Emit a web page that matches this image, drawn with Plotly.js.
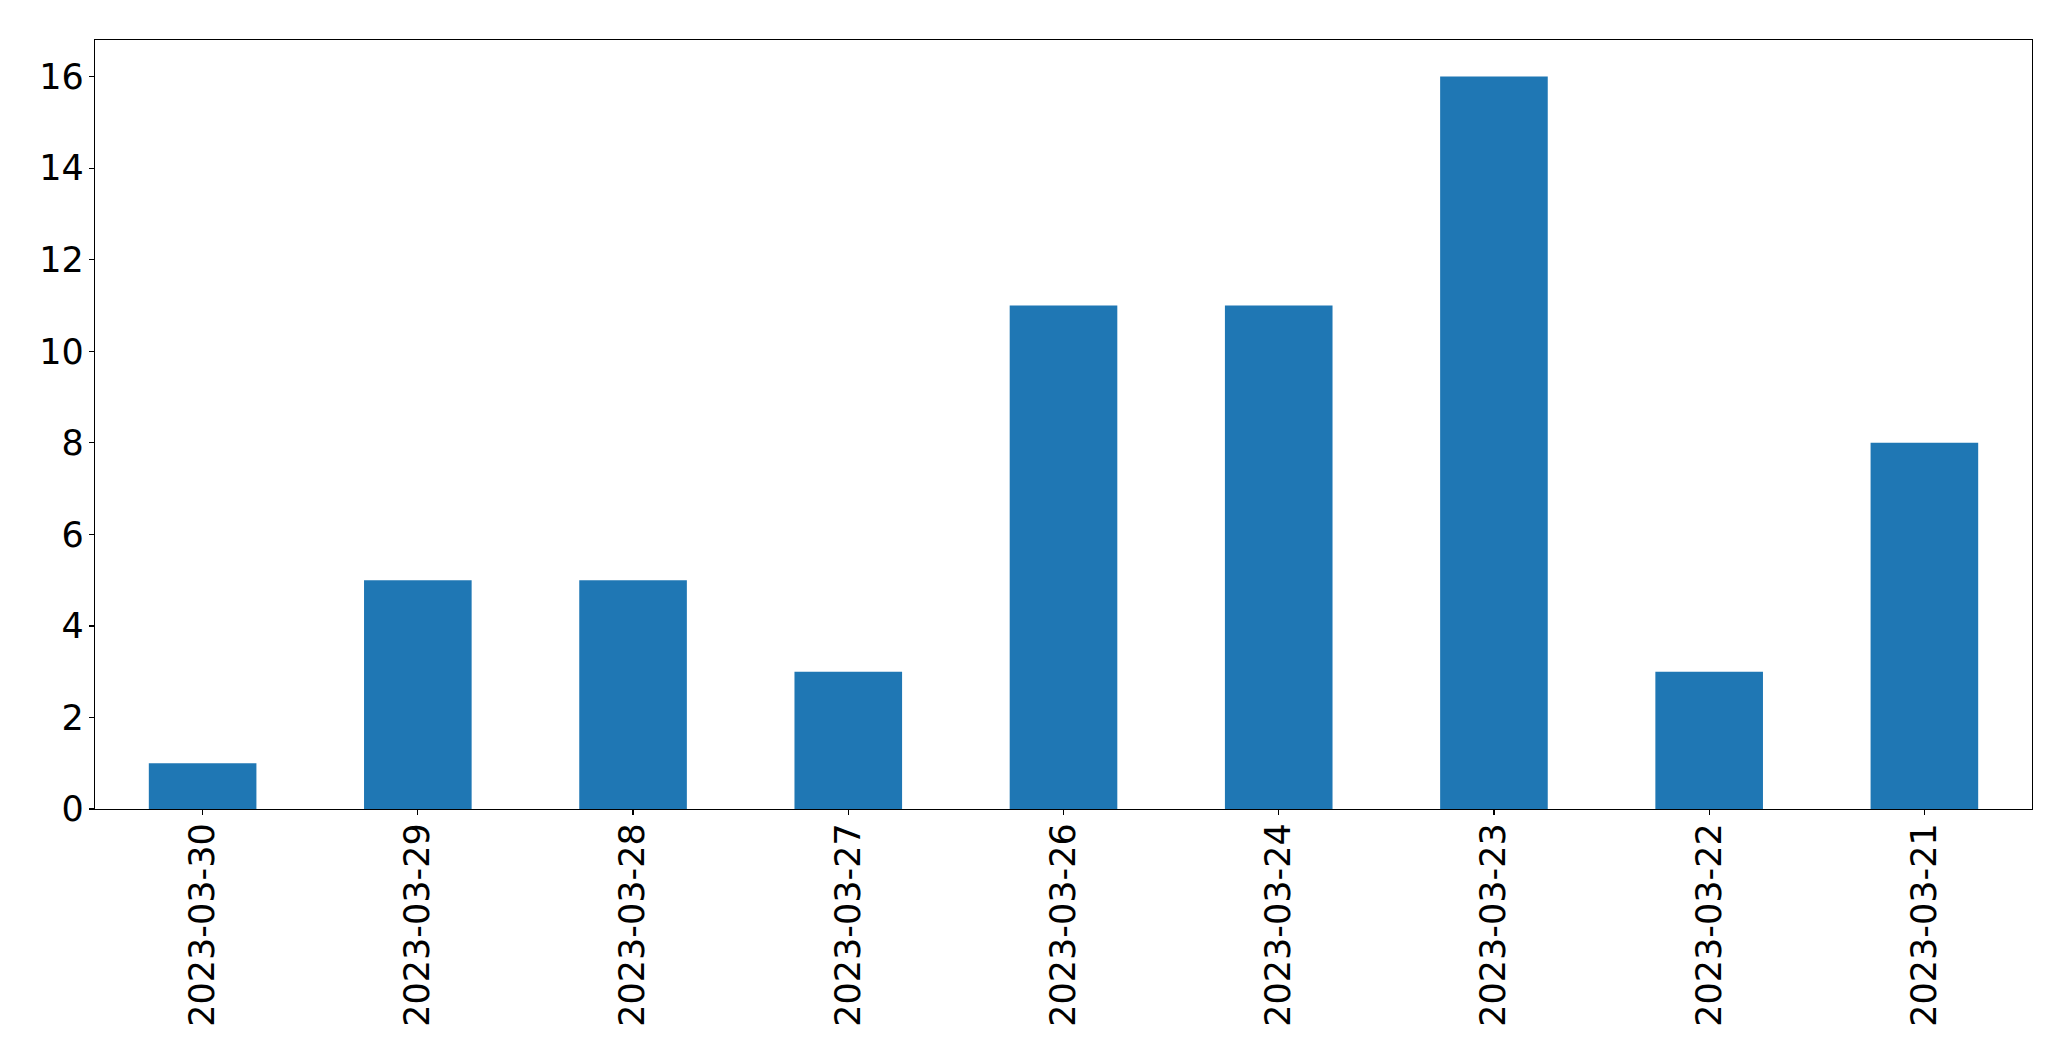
<!DOCTYPE html>
<html>
<head>
<meta charset="utf-8">
<script src="https://cdn.plot.ly/plotly-3.0.1.min.js"></script>
<style>html,body{margin:0;padding:0;background:#fff;}#chart{width:2071px;height:1061px;}</style>
</head>
<body>
<div id="chart"></div>
<script>
const dates = ["2023-03-30","2023-03-29","2023-03-28","2023-03-27","2023-03-26","2023-03-24","2023-03-23","2023-03-22","2023-03-21"];
const counts = [1,5,5,3,11,11,16,3,8];
const yTicks = [0,2,4,6,8,10,12,14,16];

const font = {family: "DejaVu Sans", size: 35, color: "#000"};
Plotly.newPlot("chart", [{
  type: "bar",
  x: dates,
  y: counts,
  width: 0.5,
  marker: {color: "#1f77b4", line: {width: 0}},
  hoverinfo: "x+y"
}], {
  width: 2071, height: 1061,
  margin: {l: 94.5, r: 39, t: 39.5, b: 252, pad: 0},
  paper_bgcolor: "#fff", plot_bgcolor: "#fff",
  showlegend: false,
  font: font,
  xaxis: {
    type: "category",
    categoryorder: "array", categoryarray: dates,
    range: [-0.5, 8.5],
    tickangle: -90,
    ticks: "outside", ticklen: 5, tickwidth: 1.3, tickcolor: "#000",
    showline: true, linecolor: "#000", linewidth: 1.3, mirror: true,
    showgrid: false, zeroline: false,
    tickfont: font,
    ticklabelstandoff: -6
  },
  yaxis: {
    range: [0, 16.8],
    tickvals: yTicks,
    ticktext: yTicks.map(String),
    ticks: "outside", ticklen: 5, tickwidth: 1.3, tickcolor: "#000",
    showline: true, linecolor: "#000", linewidth: 1.3, mirror: true,
    showgrid: false, zeroline: false,
    tickfont: font,
    ticklabelstandoff: -2
  }
}, {displayModeBar: false, staticPlot: true});
</script>
</body>
</html>
